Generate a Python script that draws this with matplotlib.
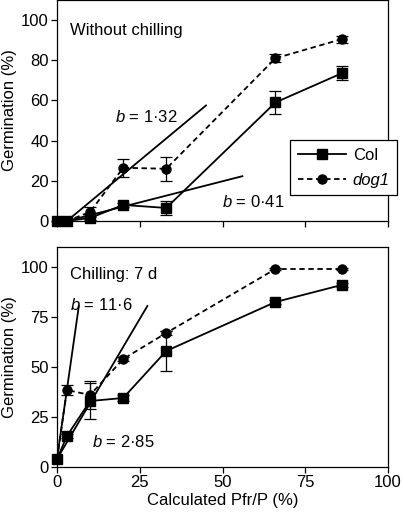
import numpy as np
import matplotlib
matplotlib.use("Agg")
import matplotlib.pyplot as plt
from matplotlib.lines import Line2D

plt.rcParams['font.family'] = ['Liberation Sans', 'DejaVu Sans']
plt.rcParams['font.size'] = 12
plt.rcParams['mathtext.fontset'] = 'custom'
plt.rcParams['mathtext.it'] = 'Liberation Sans:italic'
plt.rcParams['mathtext.rm'] = 'Liberation Sans'

# x positions (calculated Pfr/P, %)
pfr = [0, 3, 10, 20, 33, 66, 86]

# without chilling
col_top = [0, 0, 1.5, 8, 6.5, 59, 73.5]
col_top_err = [0, 0, 1, 1, 3.5, 5.5, 3.5]
dog_top = [0, 0, 4.5, 26.5, 26, 81, 90.5]
dog_top_err = [0, 0, 2.5, 4.5, 6, 2, 1.8]
fit_top_steep = ([3, 45], [0, 57.5])    # b = 1.32
fit_top_flat = ([3, 56], [0, 22.3])     # b = 0.41

# chilling 7 d
col_bot = [4, 15.5, 33, 34.5, 58, 82.5, 91]
col_bot_err = [0, 1, 9, 1.5, 10, 1, 1]
dog_bot = [4, 38.5, 36, 54, 67, 99, 99]
dog_bot_err = [0, 2.5, 7, 1, 1, 0.5, 0.5]
fit_bot_steep = ([0, 6.6], [4, 80.5])   # b = 11.6
fit_bot_flat = ([0, 27.3], [4, 80.5])   # b = 2.85

fig = plt.figure(figsize=(4.03, 5.15), dpi=100)
ax1 = fig.add_axes([57/403, 1 - 221/515, 331/403, 221/515])
ax2 = fig.add_axes([57/403, 1 - 467/515, 331/403, 220/515])

lw = 1.3
for ax, col, cerr, dog, derr, fits in [
        (ax1, col_top, col_top_err, dog_top, dog_top_err, (fit_top_steep, fit_top_flat)),
        (ax2, col_bot, col_bot_err, dog_bot, dog_bot_err, (fit_bot_steep, fit_bot_flat))]:
    for fx, fy in fits:
        ax.plot(fx, fy, color='black', lw=lw, zorder=2)
    derr = [e if e > 0 else np.nan for e in derr]
    cerr = [e if e > 0 else np.nan for e in cerr]
    ax.errorbar(pfr, dog, yerr=derr, color='black', ls=(0, (3, 2)), lw=lw,
                marker='o', ms=6.5, capsize=4, elinewidth=0.9, capthick=0.9,
                zorder=3, clip_on=False)
    ax.errorbar(pfr, col, yerr=cerr, color='black', ls='-', lw=lw,
                marker='s', ms=7, capsize=4, elinewidth=0.9, capthick=0.9,
                zorder=4, clip_on=False)
    ax.set_xlim(0, 100)
    ax.set_ylim(0, 110)
    ax.set_xticks([0, 25, 50, 75, 100])
    ax.tick_params(direction='out', length=4, width=0.9, pad=2)
    for s in ax.spines.values():
        s.set_linewidth(0.9)
    ax.set_ylabel('Germination (%)', labelpad=3)

ax1.set_yticks([0, 20, 40, 60, 80, 100])
ax1.set_xticklabels([])
ax2.set_yticks([0, 25, 50, 75, 100])
ax2.set_xlabel('Calculated Pfr/P (%)', labelpad=2)

ax1.text(4, 95, 'Without chilling', va='center')
ax1.text(17.5, 52, r'$b$ = 1·32', va='center')
ax1.text(50, 9.5, r'$b$ = 0·41', va='center')
ax2.text(4, 96, 'Chilling: 7 d', va='center')
ax2.text(4, 81, r'$b$ = 11·6', va='center')
ax2.text(10.6, 12.7, r'$b$ = 2·85', va='center')

handles = [Line2D([], [], color='black', lw=lw, marker='s', ms=7),
           Line2D([], [], color='black', lw=lw, ls=(0, (3, 2)), marker='o', ms=6.5)]
leg = ax1.legend(handles, ['Col', 'dog1'], loc='upper left',
                 bbox_to_anchor=(0.705, 0.365), fancybox=False, edgecolor='black',
                 framealpha=1, handlelength=2.9, borderpad=0.45, labelspacing=0.6,
                 handletextpad=0.4, borderaxespad=0)
leg.get_frame().set_linewidth(0.9)
leg.get_texts()[1].set_style('italic')

fig.savefig('out.png', dpi=100)
